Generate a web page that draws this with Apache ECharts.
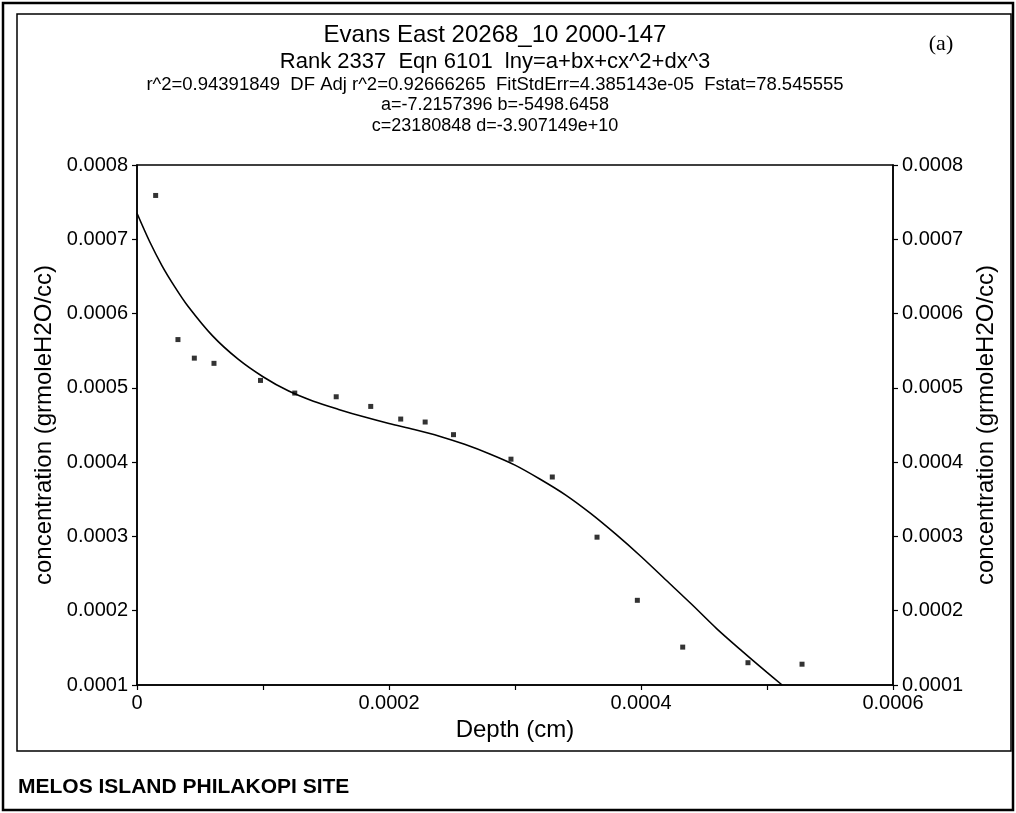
<!DOCTYPE html>
<html>
<head>
<meta charset="utf-8">
<title>Evans East 20268_10 2000-147</title>
<script src="https://cdn.jsdelivr.net/npm/echarts@6/dist/echarts.min.js"></script>
<style>
  html, body { margin: 0; padding: 0; background: #fff; }
  #chart { width: 1016px; height: 813px; }
</style>
</head>
<body>
<div id="chart"></div>
<script>
// measured points: depth (cm) vs concentration (grmoleH2O/cc)
var pointDepth = [0.0000148, 0.0000325, 0.0000455, 0.0000611, 0.0000980, 0.0001252, 0.0001581, 0.0001855, 0.0002093,
    0.0002287, 0.0002512, 0.0002968, 0.0003296, 0.0003651, 0.0003971, 0.0004331, 0.0004849, 0.0005278];
var pointConc = [0.000759, 0.000565, 0.000540, 0.000533, 0.000510, 0.000493, 0.000488, 0.000475, 0.000458,
    0.000454, 0.000437, 0.000404, 0.000380, 0.000299, 0.000214, 0.000151, 0.000130, 0.000128];

// fitted curve
var fitDepth = [0, 0.00001, 0.00002, 0.00003, 0.00004, 0.00006, 0.00008, 0.00010, 0.00012, 0.00014, 0.00016, 0.00018,
    0.00020, 0.00022, 0.00024, 0.00026, 0.00028, 0.00030, 0.00032, 0.00034, 0.00036, 0.00038, 0.00040,
    0.00042, 0.00044, 0.00046, 0.00048, 0.00050, 0.000512];
var fitConc = [0.000735, 0.000697, 0.000664, 0.000636, 0.000611, 0.000570, 0.000539, 0.000515, 0.000496, 0.000482,
    0.000471, 0.000461, 0.000452, 0.000444, 0.000435, 0.000424, 0.000411, 0.000396, 0.000377, 0.000356,
    0.000331, 0.000303, 0.000273, 0.000241, 0.000209, 0.000176, 0.000146, 0.000117, 0.000100];

var titleLines = [
    'Evans East 20268_10 2000-147',
    'Rank 2337  Eqn 6101  lny=a+bx+cx^2+dx^3',
    'r^2=0.94391849  DF Adj r^2=0.92666265  FitStdErr=4.385143e-05  Fstat=78.545555',
    'a=-7.2157396 b=-5498.6458',
    'c=23180848 d=-3.907149e+10'
];
var titleSizes = [24, 22, 18.5, 18, 18];
var titleTops = [23, 51, 75, 96, 117];

var yTicks = [0.0001, 0.0008, 0.0001]; // min, max, step
var xTicks = [0, 0.0006, 0.0001];

var font = '"Liberation Sans", Arial, sans-serif';

var fitData = [];
for (var i = 0; i < fitDepth.length; i++) {
    fitData.push([fitDepth[i], fitConc[i]]);
}
var pointData = [];
for (var j = 0; j < pointDepth.length; j++) {
    pointData.push([pointDepth[j], pointConc[j]]);
}

var titles = [];
for (var k = 0; k < titleLines.length; k++) {
    titles.push({
        text: titleLines[k],
        left: 495,
        top: titleTops[k],
        textAlign: 'center',
        padding: 0,
        textStyle: { fontFamily: font, fontSize: titleSizes[k], fontWeight: 'normal', color: '#000' }
    });
}

function yLabel(v) {
    return v.toFixed(4);
}
function xLabel(v) {
    var n = Math.round(v / 0.0001);
    if (n % 2 !== 0) return '';
    return n === 0 ? '0' : v.toFixed(4);
}

var yAxisBase = {
    type: 'value',
    min: yTicks[0],
    max: yTicks[1],
    interval: yTicks[2],
    name: 'concentration (grmoleH2O/cc)',
    nameLocation: 'middle',
    nameRotate: 90,
    nameTextStyle: { fontFamily: font, fontSize: 24, color: '#000' },
    axisLine: { show: true, lineStyle: { color: '#000', width: 1.5 } },
    axisTick: { show: true, inside: false, length: 5, lineStyle: { color: '#000', width: 1.2 } },
    axisLabel: { fontFamily: font, fontSize: 20, color: '#000', margin: 9, formatter: yLabel },
    splitLine: { show: false }
};

var dom = document.getElementById('chart');
var myChart = echarts.init(dom, null, { renderer: 'canvas' });
var option = {
    backgroundColor: '#fff',
    animation: false,
    title: titles,
    grid: {
        left: 137,
        right: 123,
        top: 165,
        bottom: 128,
        show: true,
        borderColor: '#000',
        borderWidth: 1.5,
        containLabel: false
    },
    xAxis: {
        type: 'value',
        min: xTicks[0],
        max: xTicks[1],
        interval: xTicks[2],
        name: 'Depth (cm)',
        nameLocation: 'middle',
        nameGap: 30,
        nameTextStyle: { fontFamily: font, fontSize: 24, color: '#000' },
        axisLine: { show: true, onZero: false, lineStyle: { color: '#000', width: 1.5 } },
        axisTick: { show: true, inside: false, length: 5, lineStyle: { color: '#000', width: 1.2 } },
        axisLabel: { fontFamily: font, fontSize: 20, color: '#000', margin: 8, formatter: xLabel, showMinLabel: true, showMaxLabel: true },
        splitLine: { show: false }
    },
    yAxis: [
        Object.assign({}, yAxisBase, { position: 'left', nameGap: 76 }),
        Object.assign({}, yAxisBase, { position: 'right', nameGap: 74 })
    ],
    graphic: [
        // outer frame
        { type: 'rect', shape: { x: 3, y: 3, width: 1010, height: 807 }, style: { fill: 'none', stroke: '#000', lineWidth: 2.5 }, silent: true },
        // inner box
        { type: 'rect', shape: { x: 17, y: 14, width: 994, height: 737 }, style: { fill: 'none', stroke: '#000', lineWidth: 1.5 }, silent: true },
        {
            type: 'text', x: 941, y: 44,
            style: { text: '(a)', font: '22px "Liberation Serif", "Times New Roman", serif', fill: '#000', textAlign: 'center', textVerticalAlign: 'middle' }
        },
        {
            type: 'text', x: 18, y: 787,
            style: { text: 'MELOS ISLAND PHILAKOPI SITE', font: 'bold 21px "Liberation Sans", Arial, sans-serif', fill: '#000', textAlign: 'left', textVerticalAlign: 'middle' }
        }
    ],
    series: [
        {
            name: 'fit',
            type: 'line',
            data: fitData,
            showSymbol: false,
            smooth: 0.3,
            lineStyle: { color: '#000', width: 1.6 },
            yAxisIndex: 0,
            z: 2
        },
        {
            name: 'data',
            type: 'scatter',
            data: pointData,
            symbol: 'rect',
            symbolSize: 5,
            itemStyle: { color: '#000' },
            yAxisIndex: 0,
            z: 3
        }
    ]
};
if (option && typeof option === "object") {
    myChart.setOption(option, true);
}
</script>
</body>
</html>
